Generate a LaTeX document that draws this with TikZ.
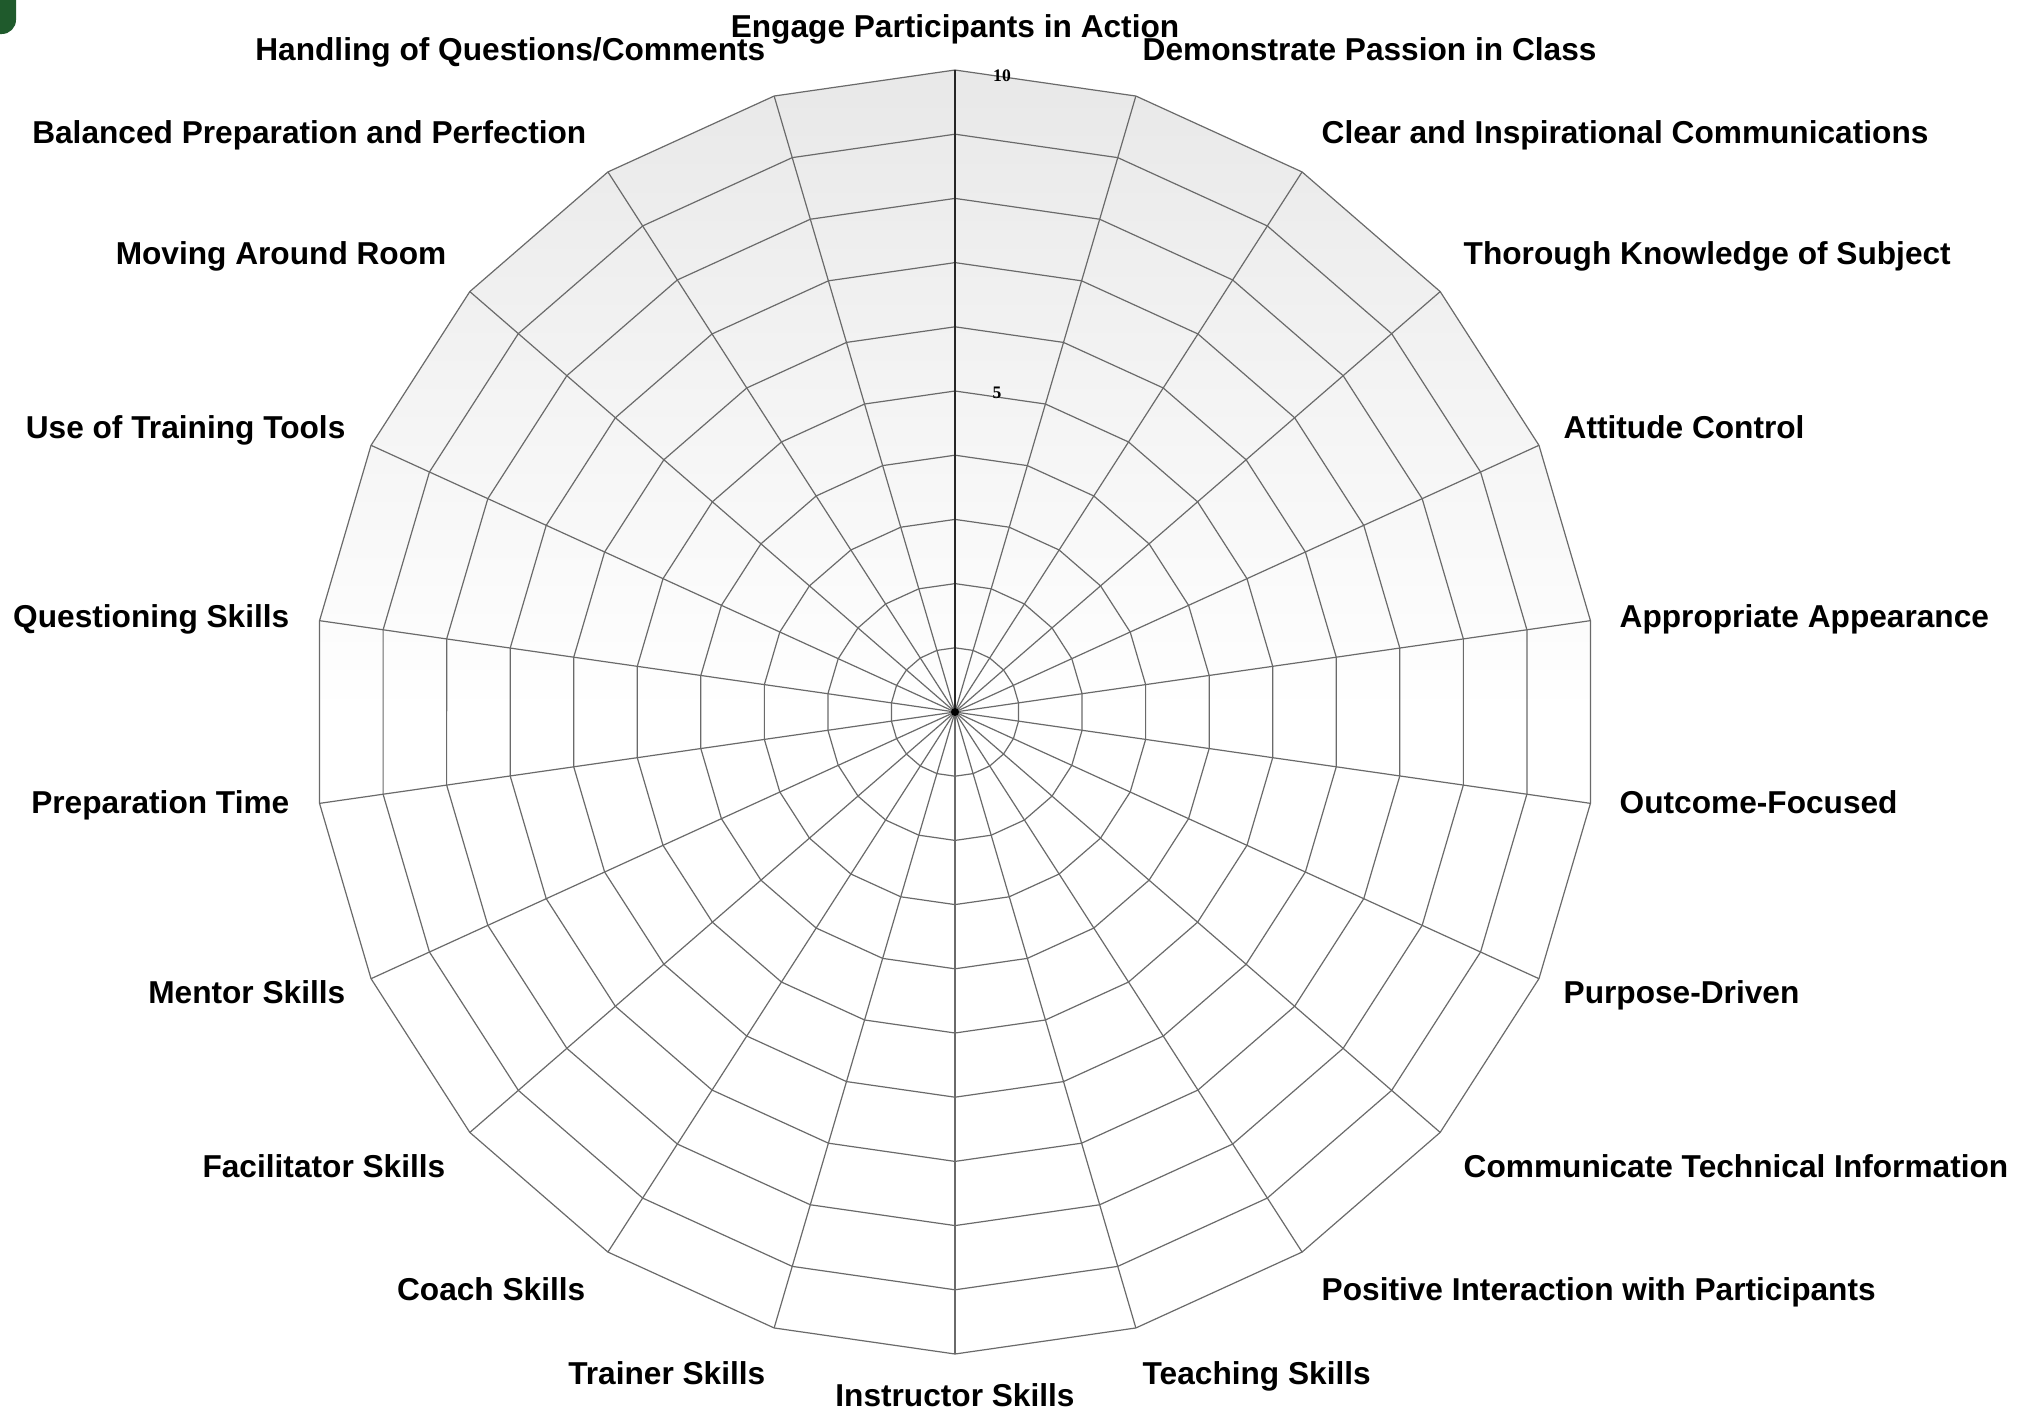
\documentclass[tikz,border=0pt]{standalone}
\usepackage{fontspec}
\setmainfont{Liberation Sans}
\newfontfamily\tickfont{Liberation Serif}
\definecolor{cornergreen}{HTML}{1F5A2C}
\definecolor{gridgray}{HTML}{6A6A6A}
\begin{document}
\begin{tikzpicture}[x=0.01cm,y=-0.01cm,
  grid/.style={draw=gridgray, line width=0.012cm},
  lab/.style={font=\bfseries\fontsize{9.0pt}{11pt}\selectfont, inner sep=0pt, text height=0.72em, text depth=0pt},
  labr/.style={lab, anchor=west},
  labl/.style={lab, anchor=east},
  tick/.style={font=\tickfont\bfseries\fontsize{5pt}{6pt}\selectfont, inner sep=0pt}]
\useasboundingbox (0,0) rectangle (2026,1412);
\fill[white] (0,0) rectangle (2026,1412);
\fill[cornergreen, rounded corners=4] (-20,-20) rectangle (16,34);
\begin{scope}[shift={(955,712)}]
  \begin{scope}
    \clip (-90:642) \foreach \k in {1,...,21}{ -- ({\k*360/22-90}:642)} -- cycle;
    \shade[top color=black!9, bottom color=white] (-700,-645) rectangle (700,0);
  \end{scope}
  \foreach \i in {1,...,10}
    \draw[grid] (-90:{\i*64.2}) \foreach \k in {1,...,21}{ -- ({\k*360/22-90}:{\i*64.2})} -- cycle;
  \foreach \k in {1,...,21}
    \draw[grid] (0,0) -- ({\k*360/22-90}:642);
  \draw[draw=black!85, line width=0.014cm] (0,0) -- (0,-642);
  \fill[black] (0,0) circle (4);
\end{scope}
\node[tick] (t10) at (1002,76) {10};
\node[tick] (t5) at (997,393) {5};
% labels
\node[lab] (l0) at (955,25) {Engage Participants in Action};
\node[labr] (l1) at (1142,48) {Demonstrate Passion in Class};
\node[labr] (l2) at (1321,131) {Clear and Inspirational Communications};
\node[labr] (l3) at (1463,252) {Thorough Knowledge of Subject};
\node[labr] (l4) at (1563,426) {Attitude Control};
\node[labr] (l5) at (1619,615) {Appropriate Appearance};
\node[labr] (l6) at (1619,801) {Outcome-Focused};
\node[labr] (l7) at (1563,991) {Purpose-Driven};
\node[labr] (l8) at (1463,1165) {Communicate Technical Information};
\node[labr] (l9) at (1321,1288) {Positive Interaction with Participants};
\node[labr] (l10) at (1142,1372) {Teaching Skills};
\node[lab] (l11) at (955,1394) {Instructor Skills};
\node[labl] (l12) at (766,1372) {Trainer Skills};
\node[labl] (l13) at (586,1288) {Coach Skills};
\node[labl] (l14) at (446,1165) {Facilitator Skills};
\node[labl] (l15) at (346,991) {Mentor Skills};
\node[labl] (l16) at (290,801) {Preparation Time};
\node[labl] (l17) at (290,615) {Questioning Skills};
\node[labl] (l18) at (346,426) {Use of Training Tools};
\node[labl] (l19) at (447,252) {Moving Around Room};
\node[labl] (l20) at (587,131) {Balanced Preparation and Perfection};
\node[labl] (l21) at (766,48) {Handling of Questions/Comments};
\end{tikzpicture}
\end{document}
